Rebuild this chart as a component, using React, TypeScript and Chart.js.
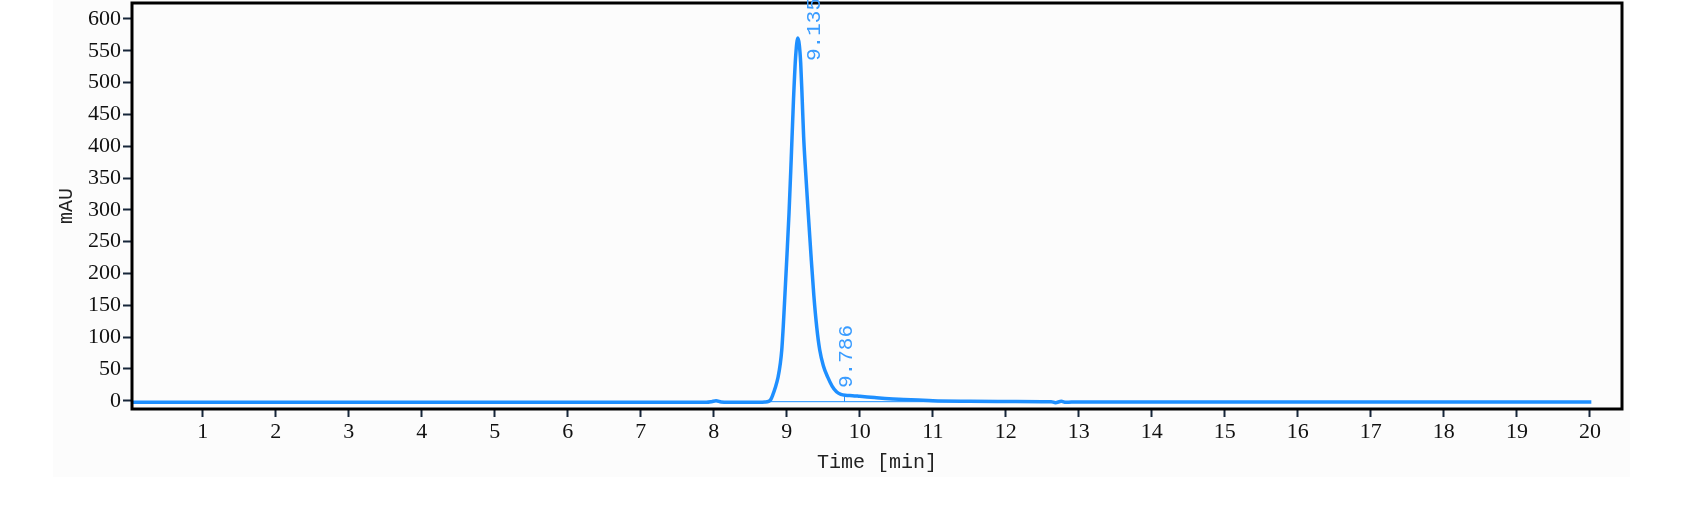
import { useEffect, useRef } from 'react'
import { Chart, registerables } from 'chart.js'
import type { Plugin } from 'chart.js'

Chart.register(...registerables)

// chromatogram trace
const TIME_MIN = [
  0, 1, 2, 3, 4, 5, 6, 7, 7.9, 7.97, 8.03, 8.1, 8.2, 8.5, 8.7, 8.75, 8.78, 8.81, 8.84, 8.88,
  8.91, 8.93, 8.95, 8.97, 9.0, 9.03, 9.06, 9.09, 9.12, 9.15, 9.17, 9.19, 9.21, 9.23, 9.26,
  9.29, 9.33, 9.37, 9.41, 9.45, 9.5, 9.56, 9.62, 9.68, 9.74, 9.8, 9.9, 10.0, 10.2, 10.4, 10.6,
  10.8, 11.0, 11.5, 12.0, 12.5, 12.62, 12.68, 12.76, 12.82, 12.9, 13, 14, 15, 16, 17, 18, 19, 20.02,
]
const SIGNAL_MAU = [
  -2.5, -2.5, -2.5, -2.5, -2.5, -2.5, -2.5, -2.5, -2.5, -1.5, 0, -2, -2.5, -2.5, -2, -1, 2, 10, 20, 37,
  58, 79, 115, 158, 225, 295, 380, 470, 540, 570, 560, 530, 475, 415, 355,
  300, 230, 165, 115, 80, 55, 37, 23, 14, 10, 8.5, 8, 7, 5, 3, 2,
  1, 0, -0.8, -1.2, -1.5, -1.5, -3, -1, -2.5, -2, -2, -2, -2, -2, -2, -2, -2, -2,
]

// integration baseline under the main peak
const BASE_T = [8.72, 12.62]
const BASE_Y = [-1.5, -1.5]

const PEAK_RT = [9.135, 9.786]
const PEAK_H = [570, 9]
const PEAK_TEXT = ['9.135', '9.786']

const X_TICKS = [1, 2, 3, 4, 5, 6, 7, 8, 9, 10, 11, 12, 13, 14, 15, 16, 17, 18, 19, 20]
const Y_TICKS = [0, 50, 100, 150, 200, 250, 300, 350, 400, 450, 500, 550, 600]

const BLUE = '#1e8fff'
const LABEL_BLUE = '#3a9cff'
const TICK = '#17263a'
const SERIF = '"Liberation Serif", "DejaVu Serif", serif'
const MONO = '"Liberation Mono", "DejaVu Sans Mono", monospace'

// label nudges in px (first label sits beside the apex, second above the shoulder)
const LABEL_NUDGE = [{ dx: 18, dy: 23 }, { dx: 2, dy: -7 }]

const backdrop: Plugin = {
  id: 'backdrop',
  beforeDraw(chart) {
    const { ctx } = chart
    ctx.save()
    ctx.fillStyle = '#ffffff'
    ctx.fillRect(0, 0, chart.width, chart.height)
    ctx.fillStyle = '#fcfcfc'
    ctx.fillRect(53, 0, 1577, 477)
    ctx.restore()
  },
}

const frameAndLabels: Plugin = {
  id: 'frameAndLabels',
  afterDatasetsDraw(chart) {
    const { ctx, chartArea: a } = chart
    const xs = chart.scales.x
    const ys = chart.scales.y
    ctx.save()
    // retention-time marker for the shoulder
    ctx.strokeStyle = BLUE
    ctx.lineWidth = 1
    const mx = Math.round(xs.getPixelForValue(PEAK_RT[1])) + 0.5
    ctx.beginPath()
    ctx.moveTo(mx, ys.getPixelForValue(BASE_Y[0]))
    ctx.lineTo(mx, ys.getPixelForValue(PEAK_H[1]))
    ctx.stroke()

    // frame
    ctx.strokeStyle = '#000'
    ctx.lineWidth = 3
    ctx.strokeRect(a.left, a.top, a.right - a.left, a.bottom - a.top)

    // peak labels, rotated
    ctx.fillStyle = LABEL_BLUE
    ctx.font = `21px ${MONO}`
    ctx.textAlign = 'left'
    ctx.textBaseline = 'middle'
    PEAK_RT.forEach((rt, i) => {
      const px = xs.getPixelForValue(rt) + LABEL_NUDGE[i].dx
      const py = ys.getPixelForValue(PEAK_H[i]) + LABEL_NUDGE[i].dy
      ctx.save()
      ctx.translate(px, py)
      ctx.rotate(-Math.PI / 2)
      ctx.fillText(PEAK_TEXT[i], 0, 0)
      ctx.restore()
    })
    ctx.restore()
  },
}

function Chromatogram() {
  const canvasRef = useRef<HTMLCanvasElement>(null)
  const chartRef = useRef<Chart | null>(null)

  useEffect(() => {
    const el = canvasRef.current
    if (!el) return
    chartRef.current?.destroy()
    chartRef.current = new Chart(el, {
      type: 'line',
      data: {
        datasets: [
          {
            label: 'signal',
            data: TIME_MIN.map((t, i) => ({ x: t, y: SIGNAL_MAU[i] })),
            borderColor: BLUE,
            borderWidth: 3.5,
            pointRadius: 0,
            cubicInterpolationMode: 'monotone',
            fill: false,
          },
          {
            label: 'baseline',
            data: BASE_T.map((t, i) => ({ x: t, y: BASE_Y[i] })),
            borderColor: BLUE,
            borderWidth: 1,
            pointRadius: 0,
            fill: false,
          },
        ],
      },
      options: {
        responsive: false,
        animation: false,
        devicePixelRatio: 1,
        layout: { padding: { left: 0, top: 3, right: 75, bottom: 0 } },
        plugins: {
          legend: { display: false },
          tooltip: { enabled: false },
        },
        scales: {
          x: {
            type: 'linear',
            min: 0.03,
            max: 20.44,
            afterBuildTicks: (s) => { s.ticks = X_TICKS.map((v) => ({ value: v })) },
            afterFit: (s) => { s.height = 97; s.paddingLeft = 0; s.paddingRight = 0 },
            grid: { drawOnChartArea: false, drawTicks: true, tickLength: 8, tickColor: TICK, tickWidth: 2 },
            border: { display: false },
            ticks: { color: '#111', font: { family: SERIF, size: 22 }, padding: 2, maxRotation: 0, autoSkip: false },
            title: {
              display: true,
              text: 'Time [min]',
              color: '#222',
              font: { family: MONO, size: 20 },
              padding: { top: 0, bottom: 31 },
            },
          },
          y: {
            type: 'linear',
            min: -13,
            max: 625,
            afterBuildTicks: (s) => { s.ticks = Y_TICKS.map((v) => ({ value: v })) },
            afterFit: (s) => { s.width = 132; s.paddingTop = 0; s.paddingBottom = 0 },
            grid: { drawOnChartArea: false, drawTicks: true, tickLength: 9, tickColor: TICK, tickWidth: 2 },
            border: { display: false },
            ticks: { color: '#111', font: { family: SERIF, size: 22 }, padding: 2, autoSkip: false },
            title: {
              display: true,
              text: 'mAU',
              color: '#222',
              font: { family: MONO, size: 20 },
              padding: { top: 55, bottom: 0 },
            },
          },
        },
      },
      plugins: [backdrop, frameAndLabels],
    })
    return () => { chartRef.current?.destroy(); chartRef.current = null }
  }, [])

  return <canvas ref={canvasRef} width={1697} height={506} style={{ display: 'block' }} />
}

export default function App() {
  return (
    <div style={{ position: 'absolute', left: 0, top: 0, width: 1697, height: 506, background: '#fff' }}>
      <Chromatogram />
    </div>
  )
}
